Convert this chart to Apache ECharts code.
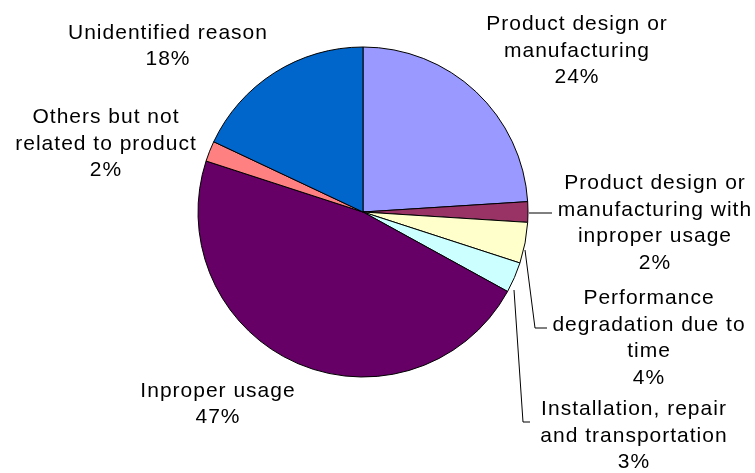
<!DOCTYPE html>
<html>
<head>
<meta charset="utf-8">
<style>
  html, body { margin: 0; padding: 0; background: #ffffff; }
  #chart { width: 755px; height: 473px; }
</style>
<script src="https://cdn.jsdelivr.net/npm/echarts@6/dist/echarts.min.js"></script>
</head>
<body>
<div id="chart"></div>
<script>
// Causes, in clockwise order starting from 12 o'clock
const categories = [
  'Product design or\nmanufacturing',
  'Product design or\nmanufacturing with\ninproper usage',
  'Performance\ndegradation due to\ntime',
  'Installation, repair\nand transportation',
  'Inproper usage',
  'Others but not\nrelated to product',
  'Unidentified reason'
];
const shares = [24, 2, 4, 3, 47, 2, 18];
const sliceColors = ['#9999FF', '#993366', '#FFFFCC', '#CCFFFF', '#660066', '#FF8080', '#0066CC'];

// Label block centres (px) and leader-line paths for the thin slices
const labelSpots = [
  [577, 51], [655, 223], [649, 338], [634, 436], [218, 404], [106, 144], [168, 46]
];
const leaderPaths = {
  1: [[529, 213], [540, 213], [552, 213]],
  2: [[525, 250], [535, 328], [547, 328]],
  3: [[514, 290], [523, 422], [530, 422]]
};

// Open tracking a little for all canvas text (labels are drawn centred, so the
// canvas itself keeps them centred on their anchor)
(function () {
  const proto = CanvasRenderingContext2D.prototype;
  const fill = proto.fillText;
  proto.fillText = function () {
    if ('letterSpacing' in this) this.letterSpacing = '1px';
    return fill.apply(this, arguments);
  };
})();

const chart = echarts.init(document.getElementById('chart'), null, { renderer: 'canvas' });

chart.setOption({
  backgroundColor: '#ffffff',
  animation: false,
  series: [{
    type: 'pie',
    center: [363, 212],
    radius: 165,
    startAngle: 90,
    clockwise: true,
    avoidLabelOverlap: false,
    itemStyle: { borderColor: '#000000', borderWidth: 1 },
    label: {
      show: true,
      position: 'outside',
      color: '#000000',
      fontFamily: '"Liberation Sans", Arial, sans-serif',
      fontSize: 21,
      lineHeight: 26.5,
      align: 'center',
      formatter: p => p.name + '\n' + Math.round(p.percent) + '%'
    },
    labelLine: {
      show: true,
      lineStyle: { color: '#000000', width: 1 }
    },
    labelLayout: params => {
      const i = params.dataIndex;
      const spot = labelSpots[i];
      const out = {
        x: spot[0],
        y: spot[1],
        align: 'center',
        verticalAlign: 'middle'
      };
      if (leaderPaths[i]) out.labelLinePoints = leaderPaths[i];
      return out;
    },
    data: categories.map((name, i) => ({
      name: name,
      value: shares[i],
      itemStyle: { color: sliceColors[i] },
      labelLine: { show: !!leaderPaths[i] }
    }))
  }]
});
</script>
</body>
</html>
